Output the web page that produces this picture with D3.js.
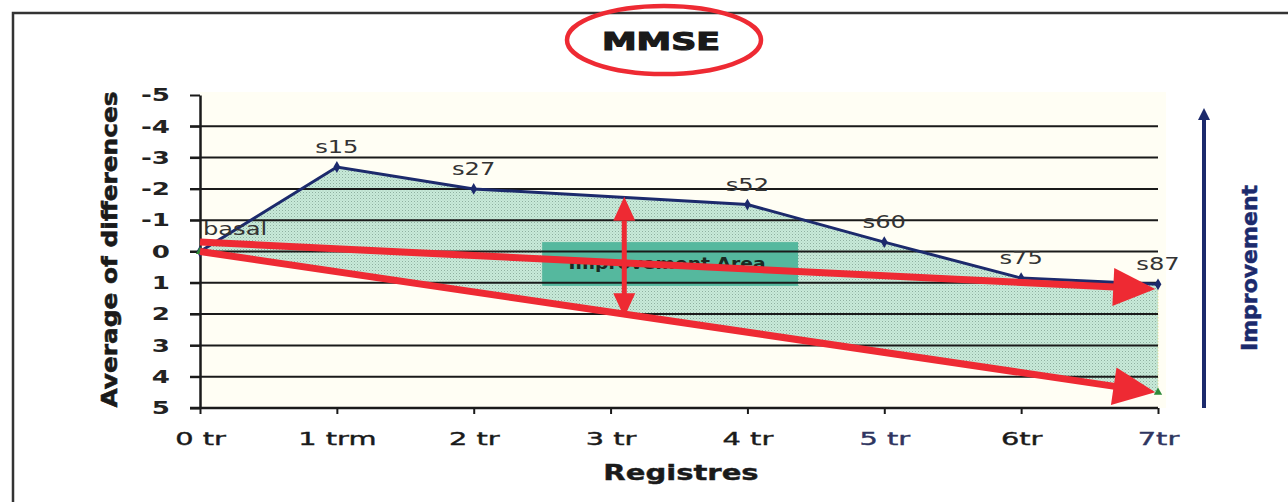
<!DOCTYPE html>
<html>
<head>
<meta charset="utf-8">
<script src="https://cdn.jsdelivr.net/npm/d3@7"></script>
<style>
  body { margin: 0; background: #fff; }
  svg { display: block; }
</style>
</head>
<body>
<div id="chart"></div>
<script>
// categories on the x axis
var categories = ["0 tr", "1 trm", "2 tr", "3 tr", "4 tr", "5 tr", "6tr", "7tr"];
var yTicks = [-5, -4, -3, -2, -1, 0, 1, 2, 3, 4, 5];
var gridValues = [-4, -3, -2, -1, 0, 1, 2, 3, 4];

// MMSE series (blue line)
var pointCats = ["0 tr", "1 trm", "2 tr", "4 tr", "5 tr", "6tr", "7tr"];
var pointLabels = ["basal", "s15", "s27", "s52", "s60", "s75", "s87"];
var pointValues = [0, -2.7, -2.0, -1.5, -0.3, 0.85, 1.05];

// lower reference series (green)
var refCats = ["0 tr", "7tr"];
var refValues = [0, 4.5];

// red arrows, in category index / value units
var redArrows = [
  {x1: 0, v1: -0.3, x2: 6.98, v2: 1.2},
  {x1: 0, v1: 0, x2: 6.98, v2: 4.5}
];
var vArrow = {x: 3.1, v1: -1.75, v2: 2.1};
var areaBox = {x1: 2.5, x2: 4.37, v1: -0.3, v2: 1.1, text: "Improvement Area"};

var width = 1288, height = 502;
var margin = {top: 95, left: 200, right: 130, bottom: 94};
var innerWidth = width - margin.left - margin.right,
    innerHeight = height - margin.top - margin.bottom;

var x = d3.scalePoint().domain(categories).range([margin.left, margin.left + innerWidth]);
var xi = d3.scaleLinear().domain([0, categories.length - 1]).range([margin.left, margin.left + innerWidth]);
var y = d3.scaleLinear().domain([-5, 5]).range([margin.top, margin.top + innerHeight]);

var red = "#ee2a33", navy = "#1c2a6c";

// widen text horizontally (the source picture is stretched)
function stretch(sel, k) {
  sel.each(function () {
    var w = this.getComputedTextLength();
    d3.select(this).attr("textLength", w * k).attr("lengthAdjust", "spacingAndGlyphs");
  });
}

var svg = d3.select("#chart").append("svg")
    .attr("width", width)
    .attr("height", height);

var defs = svg.append("defs");
var pat = defs.append("pattern")
    .attr("id", "hatch")
    .attr("width", 3).attr("height", 3)
    .attr("patternUnits", "userSpaceOnUse");
pat.append("rect").attr("width", 3).attr("height", 3).attr("fill", "#c8ead9");
pat.append("rect").attr("x", 0).attr("y", 0).attr("width", 1).attr("height", 1).attr("fill", "#8fb0a0");
pat.append("rect").attr("x", 1.5).attr("y", 1.5).attr("width", 1).attr("height", 1).attr("fill", "#a9cbbb");

// outer frame
svg.append("path")
    .attr("d", "M13,502 L13,13 L1288,13")
    .attr("fill", "none")
    .attr("stroke", "#333")
    .attr("stroke-width", 2.5);

// plot background
svg.append("rect")
    .attr("x", margin.left).attr("y", margin.top - 3)
    .attr("width", innerWidth + 8).attr("height", innerHeight + 3)
    .attr("fill", "#fffef4");

// improvement area (between blue line and reference line)
var bluePts = pointCats.map(function (c, i) { return [x(c), y(pointValues[i])]; });
var refPts = refCats.map(function (c, i) { return [x(c), y(refValues[i])]; });
var poly = bluePts.concat(refPts.slice().reverse());
svg.append("path")
    .attr("d", d3.line()(poly) + "Z")
    .attr("fill", "url(#hatch)");

// yellow dotted edge at last category
svg.append("line")
    .attr("x1", x("7tr")).attr("x2", x("7tr"))
    .attr("y1", y(pointValues[pointValues.length - 1])).attr("y2", y(refValues[1]))
    .attr("stroke", "#d8d27a").attr("stroke-width", 1).attr("stroke-dasharray", "1,2");

// box
svg.append("rect")
    .attr("x", xi(areaBox.x1)).attr("y", y(areaBox.v1))
    .attr("width", xi(areaBox.x2) - xi(areaBox.x1))
    .attr("height", y(areaBox.v2) - y(areaBox.v1))
    .attr("fill", "#55b89e");

var bx = (xi(areaBox.x1) + xi(areaBox.x2)) / 2;
svg.append("text")
    .attr("x", bx - 3).attr("y", y(0.57))
    .attr("text-anchor", "middle")
    .attr("font-family", "DejaVu Sans")
    .attr("font-weight", "bold")
    .attr("font-size", "15px")
    .attr("fill", "#1a2a22")
    .text(areaBox.text)
    .call(stretch, 1.25);

// gridlines
svg.append("g").selectAll("line")
    .data(gridValues)
    .enter().append("line")
    .attr("x1", margin.left - 10).attr("x2", margin.left + innerWidth)
    .attr("y1", function (d) { return y(d); })
    .attr("y2", function (d) { return y(d); })
    .attr("stroke", "#1a1a1a")
    .attr("stroke-width", 2);

// y axis
var yAxis = svg.append("g")
    .attr("class", "y axis")
    .attr("transform", "translate(" + margin.left + ",0)")
    .call(d3.axisLeft(y).tickValues(yTicks).tickSize(10).tickSizeOuter(0).tickPadding(20)
      .tickFormat(function (d) { return String(d); }));
yAxis.select(".domain").attr("stroke", "#1a1a1a").attr("stroke-width", 2.5);
yAxis.selectAll(".tick line").attr("stroke", "#1a1a1a").attr("stroke-width", 2);
yAxis.selectAll(".tick text")
    .attr("font-family", "DejaVu Sans")
    .attr("font-weight", "bold")
    .attr("font-size", "18px")
    .attr("fill", "#222")
    .call(stretch, 1.45);

// x axis
var xAxis = svg.append("g")
    .attr("class", "x axis")
    .attr("transform", "translate(0," + (margin.top + innerHeight) + ")")
    .call(d3.axisBottom(x).tickSize(6).tickSizeOuter(0).tickPadding(18));
xAxis.select(".domain")
    .attr("d", "M" + (margin.left - 10) + ",0H" + (margin.left + innerWidth))
    .attr("stroke", "#1a1a1a").attr("stroke-width", 2.5);
xAxis.selectAll(".tick line").attr("stroke", "#1a1a1a").attr("stroke-width", 2);
xAxis.selectAll(".tick text")
    .attr("font-family", "DejaVu Sans")
    .attr("font-size", "18px")
    .attr("stroke-width", 0.4)
    .attr("fill", function (d) { return (d === "5 tr" || d === "7tr") ? "#2e3560" : "#1a1a1a"; })
    .attr("stroke", function (d) { return (d === "5 tr" || d === "7tr") ? "#2e3560" : "#1a1a1a"; })
    .call(stretch, 1.6);

// blue series
svg.append("path")
    .datum(bluePts)
    .attr("d", d3.line())
    .attr("fill", "none")
    .attr("stroke", navy)
    .attr("stroke-width", 3);

svg.append("g").selectAll("path")
    .data(bluePts)
    .enter().append("path")
    .attr("d", d3.symbol().type(d3.symbolDiamond).size(40))
    .attr("transform", function (d) { return "translate(" + d[0] + "," + d[1] + ")"; })
    .attr("fill", navy);

svg.append("g").selectAll("path")
    .data(refPts)
    .enter().append("path")
    .attr("d", d3.symbol().type(d3.symbolTriangle).size(30))
    .attr("transform", function (d) { return "translate(" + d[0] + "," + d[1] + ")"; })
    .attr("fill", "#2e8a3a");

// point labels
svg.append("g").selectAll("text")
    .data(bluePts)
    .enter().append("text")
    .attr("x", function (d, i) { return i === 0 ? d[0] + 3 : d[0]; })
    .attr("y", function (d, i) { return i === 0 ? d[1] - 17 : d[1] - 14; })
    .attr("text-anchor", function (d, i) { return i === 0 ? "start" : "middle"; })
    .attr("font-family", "DejaVu Sans")
    .attr("font-size", "17px")
    .attr("fill", "#333")
    .text(function (d, i) { return pointLabels[i]; })
    .call(stretch, 1.42);

// red arrows
function arrow(g, x1, y1, x2, y2, lw, hl, hw, both) {
  var a = Math.atan2(y2 - y1, x2 - x1), c = Math.cos(a), s = Math.sin(a);
  var sx = both ? x1 + hl * c : x1, sy = both ? y1 + hl * s : y1;
  var ex = x2 - hl * c, ey = y2 - hl * s;
  g.append("line")
      .attr("x1", sx).attr("y1", sy).attr("x2", ex + c).attr("y2", ey + s)
      .attr("stroke", red).attr("stroke-width", lw);
  function head(tx, ty, bx, by) {
    g.append("path")
        .attr("d", "M" + tx + "," + ty + "L" + (bx - hw * s) + "," + (by + hw * c) +
          "L" + (bx + hw * s) + "," + (by - hw * c) + "Z")
        .attr("fill", red);
  }
  head(x2, y2, ex, ey);
  if (both) head(x1, y1, sx, sy);
}

var ag = svg.append("g");
redArrows.forEach(function (r) {
  arrow(ag, xi(r.x1), y(r.v1), xi(r.x2), y(r.v2), 7, 42, 19, false);
});
arrow(ag, xi(vArrow.x), y(vArrow.v1), xi(vArrow.x), y(vArrow.v2), 5, 24, 11, true);

// title
svg.append("ellipse")
    .attr("cx", 664).attr("cy", 40).attr("rx", 97).attr("ry", 34)
    .attr("fill", "none").attr("stroke", red).attr("stroke-width", 4.5);
svg.append("text")
    .attr("x", 661).attr("y", 50)
    .attr("text-anchor", "middle")
    .attr("font-family", "DejaVu Sans")
    .attr("font-weight", "bold")
    .attr("font-size", "24px")
    .attr("stroke", "#1a1a1a").attr("stroke-width", 1.1)
    .attr("fill", "#1a1a1a")
    .text("MMSE")
    .call(stretch, 1.45);

// axis titles
svg.append("text")
    .attr("transform", "translate(117," + (margin.top + innerHeight / 2 - 2) + ") rotate(-90)")
    .attr("text-anchor", "middle")
    .attr("font-family", "DejaVu Sans")
    .attr("font-weight", "bold")
    .attr("font-size", "22px")
    .attr("stroke", "#1a1a1a").attr("stroke-width", 0.6)
    .attr("fill", "#1a1a1a")
    .text("Average of differences")
    .attr("textLength", 316).attr("lengthAdjust", "spacingAndGlyphs");

svg.append("text")
    .attr("x", 681).attr("y", 480)
    .attr("text-anchor", "middle")
    .attr("font-family", "DejaVu Sans")
    .attr("font-weight", "bold")
    .attr("font-size", "22px")
    .attr("stroke", "#1a1a1a").attr("stroke-width", 0.4)
    .attr("fill", "#1a1a1a")
    .text("Registres")
    .call(stretch, 1.32);

// improvement arrow on the right
svg.append("line")
    .attr("x1", 1204).attr("x2", 1204)
    .attr("y1", margin.top + innerHeight).attr("y2", 116)
    .attr("stroke", navy).attr("stroke-width", 4);
svg.append("path")
    .attr("d", "M1204,108L1198,120L1210,120Z")
    .attr("fill", navy);
svg.append("text")
    .attr("transform", "translate(1257,268) rotate(-90)")
    .attr("text-anchor", "middle")
    .attr("font-family", "DejaVu Sans")
    .attr("font-weight", "bold")
    .attr("font-size", "22px")
    .attr("stroke", navy).attr("stroke-width", 0.5)
    .attr("fill", navy)
    .text("Improvement");
</script>
</body>
</html>
